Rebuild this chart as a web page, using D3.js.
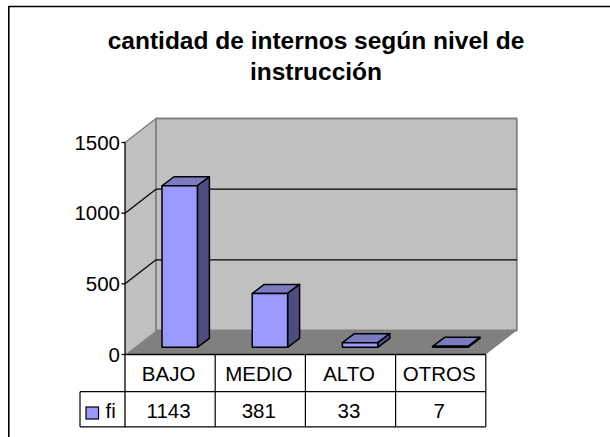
<!DOCTYPE html>
<html><head><meta charset="utf-8">
<script src="https://cdn.jsdelivr.net/npm/d3@7/dist/d3.min.js"></script>
<style>html,body{margin:0;padding:0;background:#fff}svg{display:block}text{font-family:"Liberation Sans",Arial,sans-serif;fill:#000}</style>
</head><body><script>
const categories = ["BAJO","MEDIO","ALTO","OTROS"];
const values = [1143,381,33,7];
const seriesName = "fi";
const yTicks = [0,500,1000,1500];
const titleLines = ["cantidad de internos según nivel de","instrucción"];

const W=610,H=437;
const svg=d3.select("body").append("svg").attr("width",W).attr("height",H);
const y=d3.scaleLinear().domain([0,1500]).range([354.5,142.5]);
const x=d3.scaleBand().domain(categories).range([125,485.8]);
const DX=31,DY=-24;        // wall depth
const bx=9.6,bw=35.4,bdx=12,bdy=-9,by=-7.2; // bar placement
const poly=(pts,fill,stroke,sw)=>svg.append("polygon").attr("points",pts.map(p=>p.join(",")).join(" ")).attr("fill",fill).attr("stroke",stroke||"none").attr("stroke-width",sw||0).attr("stroke-linejoin","round");
const line=(a,b,c,d,col,sw)=>svg.append("line").attr("x1",a).attr("y1",b).attr("x2",c).attr("y2",d).attr("stroke",col||"#000").attr("stroke-width",sw||1);

// chart frame: top and left edges reach the picture's border
line(8.5,6.5,W,6.5,"#000",1.6);
line(8.8,6,8.8,H,"#000",1.6);

// title
titleLines.forEach((t,i)=>svg.append("text").attr("x",316).attr("y",[48.5,80][i]).attr("text-anchor","middle").attr("font-size",24.5).attr("font-weight","bold").text(t));

// walls
const x0=x.range()[0],x1=x.range()[1],y0=y(0),yT=y(1500);
poly([[x0,y0],[x0+DX,y0+DY],[x0+DX,yT+DY],[x0,yT]],"#c0c0c0");
poly([[x0+DX,y0+DY],[x1+DX,y0+DY],[x1+DX,yT+DY],[x0+DX,yT+DY]],"#c0c0c0","#808080",1.8);
line(x0,yT,x0+DX,yT+DY,"#808080",1.5);
poly([[x0,y0],[x1,y0],[x1+DX,y0+DY],[x0+DX,y0+DY]],"#808080");

// gridlines
yTicks.filter(v=>v>0&&v<1500).forEach(v=>{
  line(x0,y(v),x0+DX,y(v)+DY,"#000",1.2);
  line(x0+DX,y(v)+DY,x1+DX,y(v)+DY,"#000",1.2);
});

// bars
categories.forEach((c,i)=>{
  const l=x(c)+x.bandwidth()/2-bw/2+bx, r=l+bw, b=y0+by, t=b-(y0-y(values[i]));
  const S="#000",W1=1.5;
  poly([[l,t],[r,t],[r+bdx,t+bdy],[l+bdx,t+bdy]],"#7b7bc0",S,W1);
  poly([[r,t],[r+bdx,t+bdy],[r+bdx,b+bdy],[r,b]],"#4d4d80",S,W1);
  poly([[l,t],[r,t],[r,b],[l,b]],"#9999ff",S,W1);
});

// y axis
line(x0,yT,x0,427,"#000",1.3);
yTicks.forEach(v=>{
  line(x0-3.5,y(v),x0,y(v),"#000",1.3);
  svg.append("text").attr("x",x0-5).attr("y",y(v)+7.2).attr("text-anchor","end").attr("font-size",20.5).text(v);
});

// data table
const r0=y0,r1=391.7,r2=426.8,lx=80;
line(x0,r0,x1,r0,"#000",1.5);
line(lx,r1,x1,r1,"#000",1.2);
line(lx,r2,x1,r2,"#000",1.2);
line(lx,r1,lx,r2,"#000",1.2);
categories.forEach((c,i)=>{
  const e=x(c)+x.bandwidth();
  line(e,r0,e,r2,"#000",1.2);
  const m=x(c)+x.bandwidth()/2-1.5;
  svg.append("text").attr("x",m).attr("y",380.5).attr("text-anchor","middle").attr("font-size",20.5).text(c);
  svg.append("text").attr("x",m).attr("y",417.5).attr("text-anchor","middle").attr("font-size",20.5).text(values[i]);
});
svg.append("rect").attr("x",86).attr("y",407).attr("width",12.5).attr("height",12).attr("fill","#9999ff").attr("stroke","#000").attr("stroke-width",1.2);
svg.append("text").attr("x",105.5).attr("y",417.5).attr("font-size",20.5).text(seriesName);
</script></body></html>
